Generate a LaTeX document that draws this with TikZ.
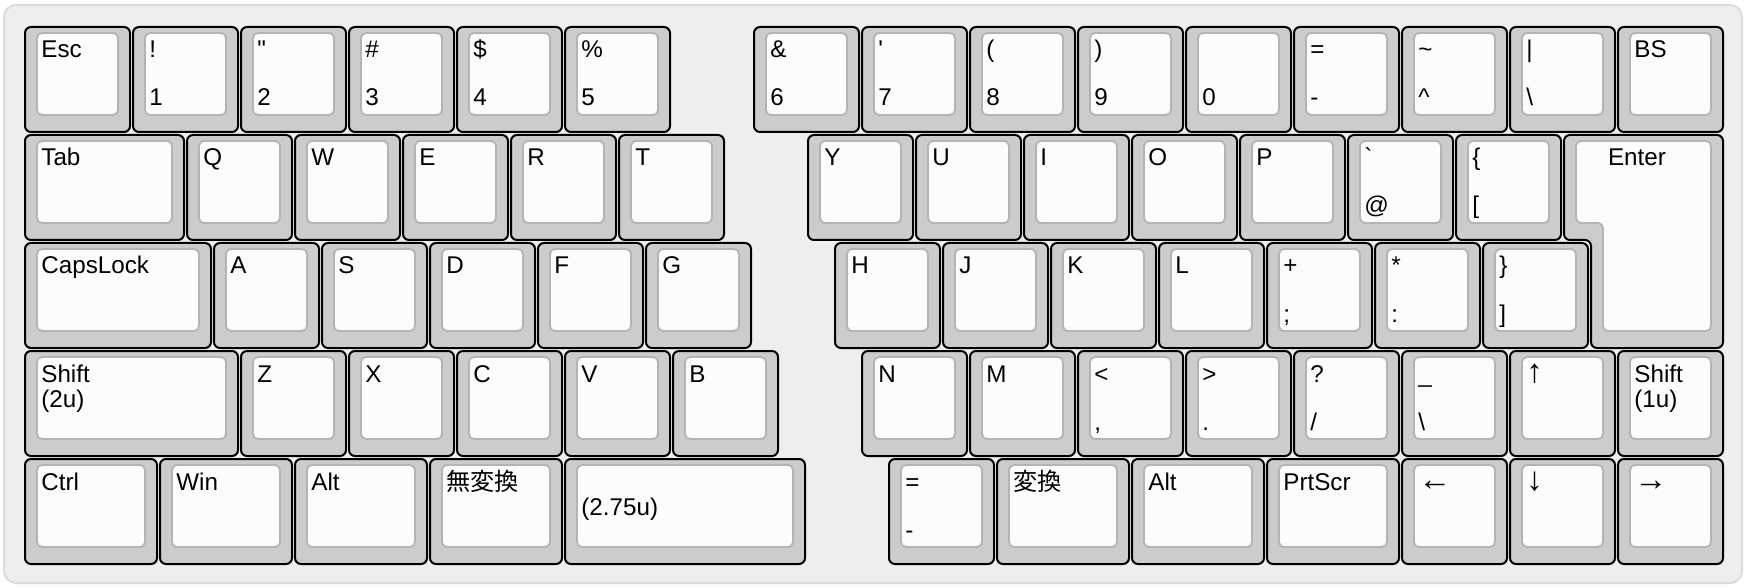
\documentclass[tikz,border=0pt]{standalone}
\usepackage{fontspec}
\setmainfont{Liberation Sans}
\newfontfamily\cjk{Noto Sans CJK JP}
\usepackage{tikz}
\usetikzlibrary{positioning, calc}
\definecolor{panelfill}{HTML}{EEEEEE}
\definecolor{paneledge}{HTML}{DCDCDC}
\definecolor{keygray}{HTML}{CCCCCC}
\definecolor{topface}{HTML}{FCFCFC}
\definecolor{topedge}{HTML}{B4B4B4}
\newcommand{\keyfont}{\fontsize{12.1}{12.5}\selectfont}
\newcommand{\arrowkey}[1]{{\fontsize{16.5}{16.5}\selectfont #1}}
\tikzset{
    panel/.style={draw=paneledge, line width=1pt, fill=panelfill, rounded corners=6pt},
    keyframe/.style={draw=black, line width=1pt, fill=keygray, rounded corners=3pt},
    keytop/.style={draw=topedge, line width=0.9pt, fill=topface, rounded corners=2.5pt},
    legend/.style={anchor=base west, inner sep=0pt, font=\keyfont},
}
% key at column #1, row #2, width #3 (units), name #4, top legend #5, bottom legend #6
\newcommand{\kbkey}[6]{%
    \pgfmathsetmacro{\kx}{25+108*#1}%
    \pgfmathsetmacro{\ky}{27+108*#2}%
    \pgfmathsetmacro{\kw}{108*#3-3}%
    \draw[keyframe] (\kx,\ky) rectangle ++(\kw,105);
    \draw[keytop] (\kx+12,\ky+6) rectangle ++(\kw-24,82);
    \node[legend] (#4t) at (\kx+16,\ky+31) {#5};
    \node[legend] (#4b) at (\kx+16,\ky+79) {#6};
}

\begin{document}
\begin{tikzpicture}[x=0.5pt, y=-0.5pt]
        \fill[white] (0,0) rectangle (1750,588);
        \useasboundingbox (0,0) rectangle (1750,588);
        \draw[panel] (4,5) rectangle (1742,583);

        % Zahlenreihe
        \kbkey{0}{0}{1}{esc}{Esc}{}
        \kbkey{1}{0}{1}{one}{!}{1}
        \kbkey{2}{0}{1}{two}{\textquotedbl}{2}
        \kbkey{3}{0}{1}{three}{\#}{3}
        \kbkey{4}{0}{1}{four}{\$}{4}
        \kbkey{5}{0}{1}{five}{\%}{5}
        \kbkey{6.75}{0}{1}{six}{\&}{6}
        \kbkey{7.75}{0}{1}{seven}{\textquotesingle}{7}
        \kbkey{8.75}{0}{1}{eight}{(}{8}
        \kbkey{9.75}{0}{1}{nine}{)}{9}
        \kbkey{10.75}{0}{1}{zero}{}{0}
        \kbkey{11.75}{0}{1}{minus}{=}{-}
        \kbkey{12.75}{0}{1}{caret}{\textasciitilde}{\textasciicircum}
        \kbkey{13.75}{0}{1}{yen}{\textbar}{\textbackslash}
        \kbkey{14.75}{0}{1}{bs}{BS}{}

        % obere Reihe
        \kbkey{0}{1}{1.5}{tab}{Tab}{}
        \kbkey{1.5}{1}{1}{q}{Q}{}
        \kbkey{2.5}{1}{1}{w}{W}{}
        \kbkey{3.5}{1}{1}{e}{E}{}
        \kbkey{4.5}{1}{1}{r}{R}{}
        \kbkey{5.5}{1}{1}{t}{T}{}
        \kbkey{7.25}{1}{1}{y}{Y}{}
        \kbkey{8.25}{1}{1}{u}{U}{}
        \kbkey{9.25}{1}{1}{i}{I}{}
        \kbkey{10.25}{1}{1}{o}{O}{}
        \kbkey{11.25}{1}{1}{p}{P}{}
        \kbkey{12.25}{1}{1}{at}{\textasciigrave}{@}
        \kbkey{13.25}{1}{1}{lbrack}{\{}{[}

        % Enter (ISO)
        \draw[keyframe] (1564,135) -- (1723,135) -- (1723,348) -- (1591,348)
            -- (1591,240) -- (1564,240) -- cycle;
        \draw[keytop] (1576,141) -- (1711,141) -- (1711,331) -- (1603,331)
            -- (1603,223) -- (1576,223) -- cycle;
        \node[legend, anchor=base] (entert) at (1637,166) {Enter};

        % mittlere Reihe
        \kbkey{0}{2}{1.75}{caps}{CapsLock}{}
        \kbkey{1.75}{2}{1}{a}{A}{}
        \kbkey{2.75}{2}{1}{s}{S}{}
        \kbkey{3.75}{2}{1}{d}{D}{}
        \kbkey{4.75}{2}{1}{f}{F}{}
        \kbkey{5.75}{2}{1}{g}{G}{}
        \kbkey{7.5}{2}{1}{h}{H}{}
        \kbkey{8.5}{2}{1}{j}{J}{}
        \kbkey{9.5}{2}{1}{k}{K}{}
        \kbkey{10.5}{2}{1}{l}{L}{}
        \kbkey{11.5}{2}{1}{semi}{+}{;}
        \kbkey{12.5}{2}{1}{colon}{*}{:}
        \kbkey{13.5}{2}{1}{rbrack}{\}}{]}

        % untere Reihe
        \kbkey{0}{3}{2}{lshift}{Shift}{}
        \node[legend] (lshiftm) at (41,407) {(2u)};
        \kbkey{2}{3}{1}{z}{Z}{}
        \kbkey{3}{3}{1}{x}{X}{}
        \kbkey{4}{3}{1}{c}{C}{}
        \kbkey{5}{3}{1}{v}{V}{}
        \kbkey{6}{3}{1}{b}{B}{}
        \kbkey{7.75}{3}{1}{n}{N}{}
        \kbkey{8.75}{3}{1}{m}{M}{}
        \kbkey{9.75}{3}{1}{comma}{<}{,}
        \kbkey{10.75}{3}{1}{period}{>}{.}
        \kbkey{11.75}{3}{1}{slash}{?}{/}
        \kbkey{12.75}{3}{1}{ro}{\_}{\textbackslash}
        \kbkey{13.75}{3}{1}{up}{\arrowkey{↑}}{}
        \kbkey{14.75}{3}{1}{rshift}{Shift}{}
        \node[legend] (rshiftm) at (1634,407) {(1u)};

        % Modifikatoren
        \kbkey{0}{4}{1.25}{ctrl}{Ctrl}{}
        \kbkey{1.25}{4}{1.25}{win}{Win}{}
        \kbkey{2.5}{4}{1.25}{lalt}{Alt}{}
        \kbkey{3.75}{4}{1.25}{muhenkan}{\cjk 無変換}{}
        \kbkey{5}{4}{2.25}{space}{}{}
        \node[legend] (spacem) at (581,515) {(2.75u)};
        \kbkey{8}{4}{1}{equal}{=}{-}
        \kbkey{9}{4}{1.25}{henkan}{\cjk 変換}{}
        \kbkey{10.25}{4}{1.25}{ralt}{Alt}{}
        \kbkey{11.5}{4}{1.25}{prtscr}{PrtScr}{}
        \kbkey{12.75}{4}{1}{left}{\arrowkey{←}}{}
        \kbkey{13.75}{4}{1}{down}{\arrowkey{↓}}{}
        \kbkey{14.75}{4}{1}{right}{\arrowkey{→}}{}
    \end{tikzpicture}
\end{document}
